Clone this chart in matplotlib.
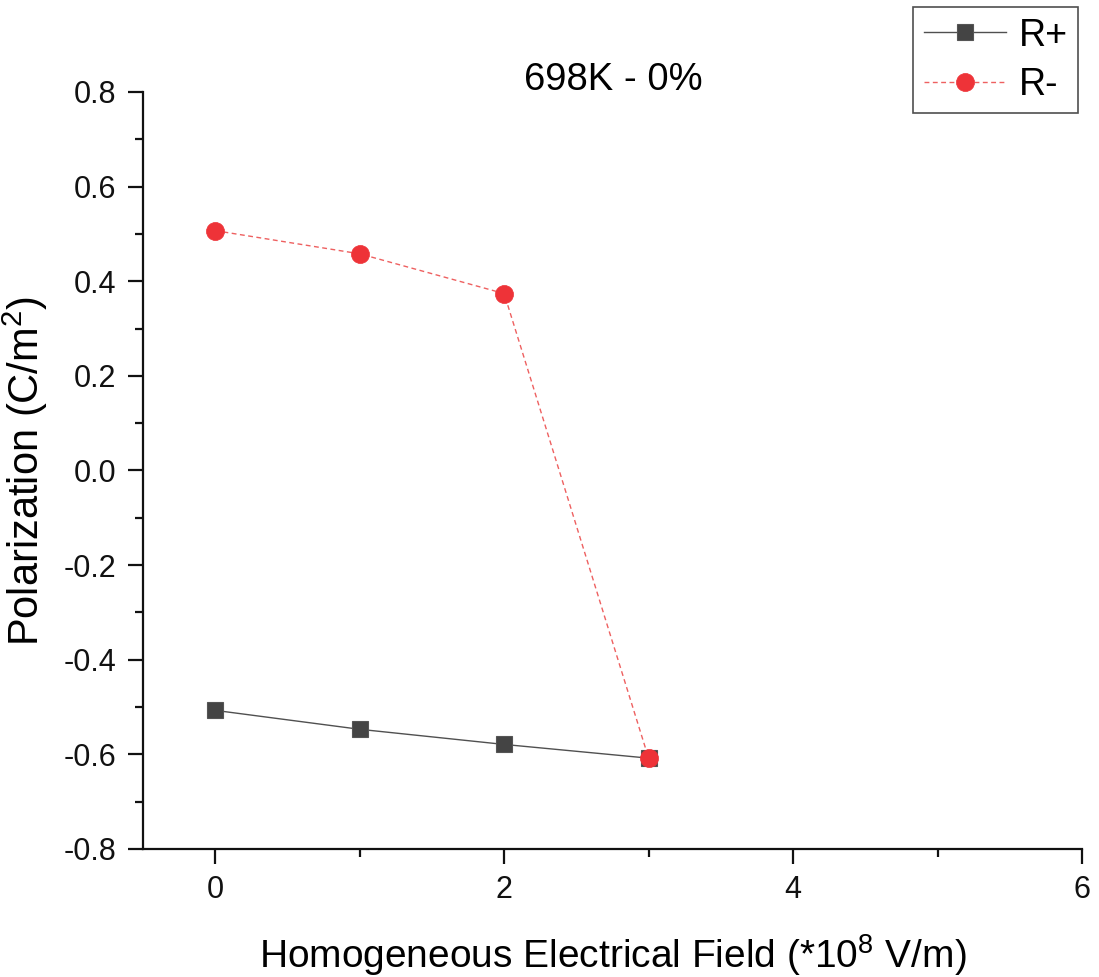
import matplotlib
matplotlib.use("Agg")
import matplotlib.pyplot as plt
from matplotlib.ticker import MultipleLocator, FuncFormatter

plt.rcParams['font.family'] = ['Liberation Sans', 'DejaVu Sans']
plt.rcParams['mathtext.fontset'] = 'custom'
plt.rcParams['mathtext.rm'] = 'Liberation Sans'

field = [0, 1, 2, 3]
r_plus = [-0.507, -0.547, -0.579, -0.608]
r_minus = [0.507, 0.458, 0.374, -0.608]

W, H = 1099, 977
fig = plt.figure(figsize=(W / 100, H / 100), dpi=100)
ax = fig.add_axes([143 / W, 1 - 849 / H, (1082 - 143) / W, (849 - 92) / H])

ax.plot(field, r_plus, color='#505050', lw=1.0, marker='s', markersize=11.5,
        markerfacecolor='#444444', markeredgecolor='#555555', markeredgewidth=0.8,
        label='R+', zorder=3)
ax.plot(field, r_minus, color='#EE6060', lw=1.0, ls=(0, (3.5, 2.5)), marker='o',
        markersize=13, markerfacecolor='#EE3338', markeredgecolor='#EE3338',
        markeredgewidth=0.5, label='R-', zorder=4)

ax.set_xlim(-0.5, 6)
ax.set_ylim(-0.8, 0.8)
ax.xaxis.set_major_locator(MultipleLocator(2))
ax.xaxis.set_minor_locator(MultipleLocator(1))
ax.yaxis.set_major_locator(MultipleLocator(0.2))
ax.yaxis.set_minor_locator(MultipleLocator(0.1))
ax.yaxis.set_major_formatter(FuncFormatter(lambda v, p: f"{v:.1f}".replace("-0.0", "0.0")))

for s in ('top', 'right'):
    ax.spines[s].set_visible(False)
for s in ('left', 'bottom'):
    ax.spines[s].set_linewidth(1.6)
    ax.spines[s].set_color('#111111')

ax.tick_params(which='major', direction='out', length=11, width=1.6, labelsize=22,
               pad=8, colors='#111111')
ax.tick_params(which='minor', direction='out', length=5.5, width=1.6, colors='#111111')

ax.set_xlabel('Homogeneous Electrical Field (*10$^{8}$ V/m)', fontsize=28, labelpad=19)
ax.set_ylabel('Polarization (C/m$^{2}$)', fontsize=30, labelpad=10)
fig.text(613 / W, 1 - 90 / H, '698K - 0%', fontsize=27.5, ha='center', va='baseline')

leg = fig.legend(loc='upper right', bbox_to_anchor=(1078 / W, 1 - 7 / H),
                 fontsize=27, frameon=True, fancybox=False, edgecolor='#222222',
                 handlelength=2.2, handletextpad=0.32, borderpad=0.28, labelspacing=0.35,
                 borderaxespad=0)
leg.get_frame().set_linewidth(1.2)

fig.savefig('out.png', dpi=100, facecolor='white')
